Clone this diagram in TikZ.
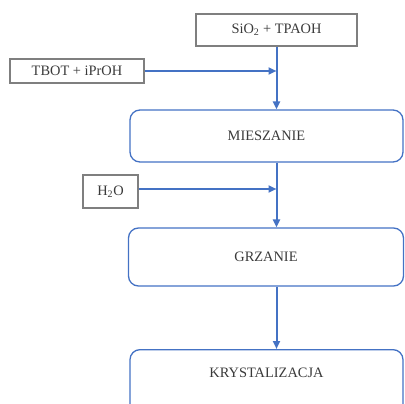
\documentclass[tikz,border=0pt]{standalone}
\usepackage{fontspec}
\setmainfont{Liberation Serif}
\usetikzlibrary{arrows.meta}
\definecolor{flowblue}{HTML}{4472C4}
\definecolor{boxgray}{HTML}{7F7F7F}
\definecolor{txtgray}{HTML}{3A3A3A}
\tikzset{
  inbox/.style={draw=boxgray, line width=1.1pt, rectangle, inner sep=0pt,
    font=\fontsize{14.4}{16}\selectfont, text=txtgray},
  stagebox/.style={draw=flowblue, line width=1.3pt, rectangle, rounded corners=10pt,
    inner sep=0pt, font=\fontsize{14.4}{16}\selectfont, text=txtgray},
  flow/.style={draw=flowblue, line width=2pt,
    -{Triangle[length=8pt,width=7pt]}},
  flowline/.style={draw=flowblue, line width=2pt}
}
\begin{document}
\begin{tikzpicture}[x=1pt,y=-1pt]
\useasboundingbox (0,0) rectangle (405,404);
\clip (0,0) rectangle (405,404);

% input substances
\node[inbox, minimum width=161pt, minimum height=32pt] (sio) at (276.5,30) {SiO\textsubscript{2} + TPAOH};
\node[inbox, minimum width=134pt, minimum height=24pt] (tbot) at (77,71) {TBOT + iPrOH};
\node[inbox, minimum width=55pt, minimum height=33pt] (h2o) at (110.5,191.5) {H\textsubscript{2}O};

% process stages
\node[stagebox, minimum width=273pt, minimum height=52pt] (mie) at (266.5,136) {MIESZANIE};
\node[stagebox, minimum width=275pt, minimum height=58pt] (grz) at (266,257) {GRZANIE};
\node[stagebox, minimum width=273pt, text height=28pt, text depth=50pt, anchor=north] (kry) at (266.5,349) {KRYSTALIZACJA};

% main flow line
\draw[flow] (sio.south) -- (sio.south |- mie.north);
\draw[flow] (sio.south |- mie.south) -- (sio.south |- grz.north);
\draw[flow] (sio.south |- grz.south) -- (sio.south |- kry.north);

% side feeds
\draw[flow] (tbot.east) -- (tbot.east -| sio.south);
\draw[flow] (h2o.east |- 0,189) -- (sio.south |- 0,189);
\end{tikzpicture}
\end{document}
